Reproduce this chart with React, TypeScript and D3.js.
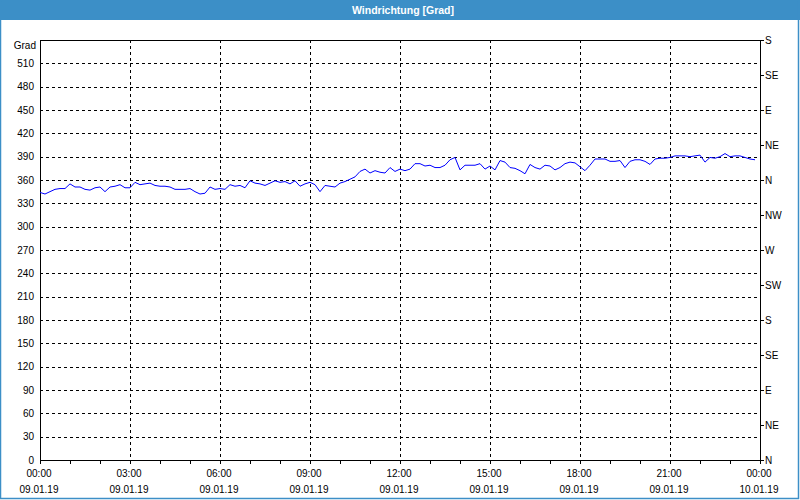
import React from "react";
import * as d3 from "d3";

const title = "Windrichtung [Grad]";
const yUnit = "Grad";
const startTime = new Date(2019, 0, 9, 0, 0);
const endTime = new Date(2019, 0, 10, 0, 0);
const sampleMinutes = 10;
// wind direction in degrees, one value every 10 minutes from 09.01.19 00:00
const directionValues = [
  344, 342, 345, 348, 349, 349, 355, 351, 351, 348,
  347, 350, 351, 345, 351, 352, 354, 350, 350, 357,
  354, 355, 356, 353, 352, 352, 351, 348, 348, 348,
  349, 345, 342, 343, 351, 348, 349, 348, 354, 352,
  353, 350, 359, 356, 355, 353, 356, 359, 357, 358,
  355, 359, 352, 355, 357, 354, 345, 353, 352, 351,
  356, 358, 361, 364, 371, 374, 369, 372, 370, 369,
  376, 371, 374, 372, 374, 381, 381, 378, 379, 376,
  376, 379, 386, 389, 373, 379, 379, 379, 381, 374,
  378, 373, 385, 383, 376, 375, 372, 368, 380, 376,
  374, 379, 378, 373, 376, 381, 383, 382, 377, 372,
  379, 387, 387, 387, 384, 384, 385, 376, 384, 386,
  386, 384, 380, 387, 388, 388, 389, 391, 391, 391,
  390, 391, 392, 383, 389, 388, 390, 394, 390, 391,
  391, 389, 387, 386,
];
const yTicks = [0, 30, 60, 90, 120, 150, 180, 210, 240, 270, 300, 330, 360, 390, 420, 450, 480, 510];
const yMax = 540;
const compassValues = [0, 45, 90, 135, 180, 225, 270, 315, 360, 405, 450, 495, 540];
const compassLabels = ["N", "NE", "E", "SE", "S", "SW", "W", "NW", "N", "NE", "E", "SE", "S"];
const majorTickHours = 3;

const W = 800;
const H = 500;
const m = { left: 40, right: 760, top: 40, bottom: 460 };
const FONT = "'Liberation Sans', Arial, sans-serif";

export default function App() {
  const x = d3.scaleTime().domain([startTime, endTime]).range([m.left, m.right]);
  const y = d3.scaleLinear().domain([0, yMax]).range([m.bottom, m.top]);

  const points = directionValues.map((v, i) => ({
    t: new Date(startTime.getTime() + i * sampleMinutes * 60000),
    v,
  }));
  const line = d3
    .line<{ t: Date; v: number }>()
    .x((d) => x(d.t))
    .y((d) => y(d.v));

  const hourTicks = d3.timeHour.every(1)!.range(startTime, new Date(endTime.getTime() + 1));
  const majorTicks = d3.timeHour.every(majorTickHours)!.range(startTime, new Date(endTime.getTime() + 1));
  const fmtTime = d3.timeFormat("%H:%M");
  const fmtDate = d3.timeFormat("%d.%m.%y");

  return (
    <svg
      width={W}
      height={H}
      style={{ position: "absolute", left: 0, top: 0, display: "block" }}
      fontFamily={FONT}
    >
      <rect x={0} y={0} width={W} height={H} fill="#ffffff" />
      <rect x={0} y={0} width={W} height={20} fill="#3c8fc7" />
      <text x={403} y={10} textAnchor="middle" dominantBaseline="central" fill="#ffffff" fontSize={10.5} fontWeight="bold">
        {title}
      </text>
      <rect x={0.5} y={0.5} width={798} height={498} fill="none" stroke="#3c8fc7" strokeWidth={1.5} />

      {/* horizontal grid */}
      {yTicks.filter((t) => t > 0).map((t) => (
        <line key={"hg" + t} x1={m.left} x2={m.right} y1={Math.round(y(t)) + 0.5} y2={Math.round(y(t)) + 0.5} stroke="#000" strokeDasharray="3,3" strokeWidth={1} />
      ))}
      {/* vertical grid */}
      {majorTicks.slice(1, -1).map((t) => (
        <line key={"vg" + t.getTime()} x1={Math.round(x(t)) + 0.5} x2={Math.round(x(t)) + 0.5} y1={m.top} y2={m.bottom} stroke="#000" strokeDasharray="3,3" strokeWidth={1} />
      ))}

      {/* frame */}
      <rect x={m.left + 0.5} y={m.top + 0.5} width={m.right - m.left} height={m.bottom - m.top} fill="none" stroke="#000" strokeWidth={1} />

      {/* data */}
      <path d={line(points) || ""} fill="none" stroke="#0000ff" strokeWidth={1} />

      {/* left labels */}
      <text x={36} y={45} textAnchor="end" dominantBaseline="central" fontSize={10} fill="#000">{yUnit}</text>
      {yTicks.map((t) => (
        <text key={"yl" + t} x={34} y={y(t)} textAnchor="end" dominantBaseline="central" fontSize={10} fill="#000">
          {t}
        </text>
      ))}

      {/* right compass axis */}
      {compassValues.map((v, i) => (
        <g key={"c" + i}>
          <line x1={m.right} x2={m.right + 4} y1={Math.round(y(v)) + 0.5} y2={Math.round(y(v)) + 0.5} stroke="#000" />
          <text x={m.right + 5} y={y(v)} dominantBaseline="central" fontSize={10} fill="#000">
            {compassLabels[i]}
          </text>
        </g>
      ))}

      {/* bottom axis */}
      {hourTicks.map((t) => (
        <line key={"ht" + t.getTime()} x1={Math.round(x(t)) + 0.5} x2={Math.round(x(t)) + 0.5} y1={m.bottom} y2={m.bottom + 4} stroke="#000" />
      ))}
      {majorTicks.map((t) => (
        <g key={"xl" + t.getTime()}>
          <text x={x(t) - 1} y={473} textAnchor="middle" dominantBaseline="central" fontSize={10} fill="#000">
            {fmtTime(t)}
          </text>
          <text x={x(t) - 1} y={489} textAnchor="middle" dominantBaseline="central" fontSize={10} fill="#000">
            {fmtDate(t)}
          </text>
        </g>
      ))}
    </svg>
  );
}
